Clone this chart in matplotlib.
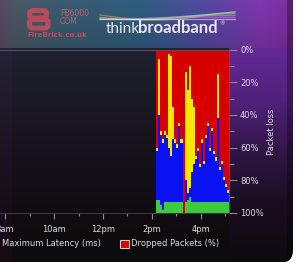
import numpy as np
import matplotlib.pyplot as plt
from matplotlib.patches import FancyBboxPatch, Rectangle

# samples every 5 minutes starting 14:10 (hours of the day)
times = [14 + m / 60 for m in range(10, 190, 5)]
# percent from top of chart where each colour band ends
red_end = [60, 6, 50, 55, 50, 52, 3, 4, 35, 55, 58, 45, 55, 100, 14, 25, 10, 30,
           35, 65, 60, 70, 55, 68, 52, 45, 60, 48, 62, 66, 15, 72, 68, 78, 82, 86]
yellow_end = [62, 40, 52, 57, 52, 54, 60, 65, 55, 57, 60, 47, 57, 100, 80, 88, 85, 75,
              70, 67, 62, 72, 57, 70, 54, 47, 62, 50, 64, 68, 42, 74, 70, 80, 84, 88]
blue_end = [92, 92, 95, 98, 93, 93, 93, 93, 93, 93, 93, 93, 93, 100, 93, 92, 90, 93,
            93, 93, 93, 93, 93, 93, 93, 93, 93, 93, 93, 93, 93, 93, 93, 93, 93, 93]

hour_ticks = [8, 10, 12, 14, 16]
hour_labels = ['8am', '10am', '12pm', '2pm', '4pm']
loss_ticks = [0, 20, 40, 60, 80, 100]

fig = plt.figure(figsize=(3.0, 2.62), dpi=100, facecolor='white')

# background card
bg = fig.add_axes([0, 0, 1, 1])
bg.set_xlim(0, 300)
bg.set_ylim(262, 0)
bg.axis('off')

H, W = 262, 300
yy, xx = np.mgrid[0:H, 0:W]

def vgrad(stops_y, stops_c, y):
    c = np.array(stops_c) / 255.0
    return np.stack([np.interp(y, stops_y, c[:, k]) for k in range(3)], axis=-1)

# plot/bottom area
dark = vgrad([48, 130, 213, 262],
             [(0x20, 0x21, 0x30), (0x18, 0x15, 0x1f), (0x10, 0x0c, 0x11), (0x0d, 0x0b, 0x0d)], yy)
# right purple panel
purple = vgrad([48, 100, 150, 200, 262],
               [(0x64, 0x28, 0x96), (0x50, 0x22, 0x7a), (0x32, 0x16, 0x48), (0x1b, 0x0e, 0x22),
                (0x0d, 0x0a, 0x0d)], yy)
img = np.where((xx >= 229)[..., None], purple, dark)
img[:, :12] += np.array([0.03, 0.0, 0.03])
# header band
hx = [0, 15, 60, 140, 200, 260, 300]
hc = np.array([(0x5a, 0x4c, 0x64), (0x4a, 0x58, 0x66), (0x3a, 0x5c, 0x70), (0x30, 0x5e, 0x80),
               (0x50, 0x4a, 0xa0), (0x80, 0x36, 0xb0), (0x80, 0x2c, 0xa0)]) / 255.0
header = np.stack([np.interp(xx, hx, hc[:, k]) for k in range(3)], axis=-1)
header *= (1 - 0.15 * yy / 48)[..., None]
img = np.where((yy < 48)[..., None], header, img)
img[:, 287:] *= 0.7
img = np.clip(img, 0, 1)

card = FancyBboxPatch((-20, -20), 313, 283, boxstyle='round,pad=0,rounding_size=13',
                      transform=bg.transData, facecolor='none', edgecolor='none')
bg.add_patch(card)
im = bg.imshow(img, extent=(0, 300, 262, 0), aspect='auto', interpolation='bilinear')
im.set_clip_path(card)

# rainbow swirl in header
sx = np.linspace(100, 235, 120)
for k, col in enumerate(['#ffb347', '#ffe066', '#7dff9a', '#6fd6ff', '#ff7ff0', '#ffffff']):
    sy = 15 + (5 - k) * np.sin((sx - 100) / 35 + k * 0.4) + k * 0.8
    bg.plot(sx, sy, color=col, lw=0.9, alpha=0.5)

# FireBrick logo (stylised B drawn as two rounded loops)
logo = '#b84a5a'
bg.add_patch(FancyBboxPatch((29.5, 10.5), 17, 7.5, boxstyle='round,pad=0,rounding_size=3',
                            facecolor='none', edgecolor=logo, lw=3.6))
bg.add_patch(FancyBboxPatch((29.5, 19.5), 18.5, 8.5, boxstyle='round,pad=0,rounding_size=3',
                            facecolor='none', edgecolor=logo, lw=3.6))
bg.text(60, 16, 'FB6000', color='#c0606e', fontsize=5.5, va='baseline')
bg.text(60, 24.5, 'COM', color='#c0606e', fontsize=5.5, va='baseline')
bg.text(27, 37, 'FireBrick.co.uk', color='#c04a5a', fontsize=5, fontweight='bold', va='baseline')
# thinkbroadband logo
bg.text(106, 33, 'think', color='#ece4f2', fontsize=11, family='Lato', fontweight='normal', va='baseline')
bg.text(138, 33, 'broadband', color='#ece4f2', fontsize=12, family='Lato', fontweight='bold', va='baseline')
bg.text(219, 25, '®', color='#ece4f2', fontsize=4, va='baseline')

# packet loss chart
ax = fig.add_axes([0, (262 - 213) / 262, 229 / 300, 163.5 / 262])
ax.set_facecolor('none')
w = 5 / 60
red_h = [r for r in red_end]
yel_h = [y - r for y, r in zip(yellow_end, red_end)]
blu_h = [b - y for b, y in zip(blue_end, yellow_end)]
grn_h = [100 - b for b in blue_end]
kw = dict(width=w, align='edge', linewidth=0, antialiased=False)
ax.bar(times, red_h, bottom=0, color='#d60000', **kw)
ax.bar(times, yel_h, bottom=red_end, color='#f6e800', **kw)
ax.bar(times, blu_h, bottom=yellow_end, color='#0a12f4', **kw)
ax.bar(times, grn_h, bottom=blue_end, color='#3dcc3d', **kw)

ax.set_xlim(7.79, 17.15)
ax.set_ylim(100, 0)
ax.yaxis.tick_right()
ax.set_yticks(loss_ticks)
ax.set_yticklabels([f'{t}%' for t in loss_ticks])
ax.set_yticks(range(10, 100, 20), minor=True)
ax.set_xticks(hour_ticks)
ax.set_xticklabels(hour_labels)
ax.set_xticks([9, 11, 13, 15, 17], minor=True)
ax.tick_params(axis='both', which='both', colors='#8a8a90', labelcolor='#dedbe0', labelsize=6)
ax.tick_params(axis='y', which='major', length=6, width=0.8, pad=2)
ax.tick_params(axis='y', which='minor', length=3.5, width=0.8)
ax.tick_params(axis='x', which='major', length=4.5, width=0.8, pad=4)
ax.tick_params(axis='x', which='minor', length=2.5, width=0.8)
ax.spines['left'].set_visible(False)
ax.spines['top'].set_color('#50505e')
ax.spines['right'].set_color('#5a4a6a')
ax.spines['bottom'].set_color('#3a3a40')
for s in ax.spines.values():
    s.set_linewidth(0.8)

fig.text(271 / 300, 1 - 132 / 262, 'Packet loss', rotation=90, color='#dedbe0',
         fontsize=6, ha='center', va='center')

# legend row
fig.text(2 / 300, 1 - 244 / 262, 'Maximum Latency (ms)', color='#dedbe0', fontsize=6,
         ha='left', va='center')
bg.add_patch(Rectangle((120, 239.5), 8.5, 8.5, facecolor='#dd0000', edgecolor='#d0d0d0', lw=0.8))
fig.text(131 / 300, 1 - 244 / 262, 'Dropped Packets (%)', color='#dedbe0', fontsize=6,
         ha='left', va='center')

fig.savefig('out.png', dpi=100, facecolor='white')
